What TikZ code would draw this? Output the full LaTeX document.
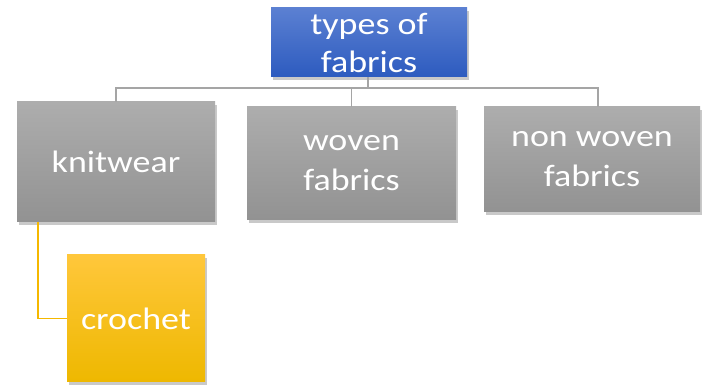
\documentclass[tikz,border=0pt]{standalone}
\usepackage{fontspec}
\newfontfamily\boxfont[FakeStretch=1.16]{Carlito}
\usetikzlibrary{shadows}
\definecolor{blueTop}{HTML}{5B80D2}
\definecolor{blueBot}{HTML}{2D5BBF}
\definecolor{grayTop}{HTML}{ADADAD}
\definecolor{grayBot}{HTML}{929292}
\definecolor{yelTop}{HTML}{FFC73B}
\definecolor{yelBot}{HTML}{EEB800}
\definecolor{linkGray}{HTML}{A5A5A5}
\definecolor{linkYel}{HTML}{F5B800}
\tikzset{
  card/.style={rectangle, inner sep=0pt, align=center, text=white,
    font=\boxfont\fontsize{31}{40}\selectfont,
    drop shadow={shadow xshift=2pt, shadow yshift=-3pt, opacity=0.35, fill=black!60}},
  bluecard/.style={card, top color=blueTop, bottom color=blueBot},
  graycard/.style={card, top color=grayTop, bottom color=grayBot},
  yelcard/.style={card, top color=yelTop, bottom color=yelBot},
  graylink/.style={draw=linkGray, line width=1.8pt},
  yellink/.style={draw=linkYel, line width=1.8pt},
}
\begin{document}
\begin{tikzpicture}[x=1pt,y=1pt]
\useasboundingbox (0,0) rectangle (702,385);
\fill[white] (0,0) rectangle (702,385);

% junction of the tree links
\coordinate (bus) at (368,297);

% boxes
\node[bluecard, minimum width=196pt, minimum height=69pt] (root) at (369,342.5) {types of\\[-2pt]fabrics};
\node[graycard, minimum width=198pt, minimum height=120pt] (knit) at (116,223) {knitwear};
\node[graycard, minimum width=209pt, minimum height=113pt] (woven) at (351.5,221.5) {woven\\fabrics};
\node[graycard, minimum width=216pt, minimum height=105pt] (non) at (592,225.5) {non woven\\fabrics};
\node[yelcard, minimum width=138pt, minimum height=127pt] (croc) at (136,66.5) {crochet};

% tree links
\draw[graylink] ([xshift=-1pt]root.south) |- (bus) -| (knit.north);
\draw[graylink] (bus) -| (woven.north);
\draw[graylink] (bus) -| ([xshift=6pt]non.north);
\draw[yellink] ([xshift=21pt]knit.south west) |- (croc.west);
\end{tikzpicture}
\end{document}
